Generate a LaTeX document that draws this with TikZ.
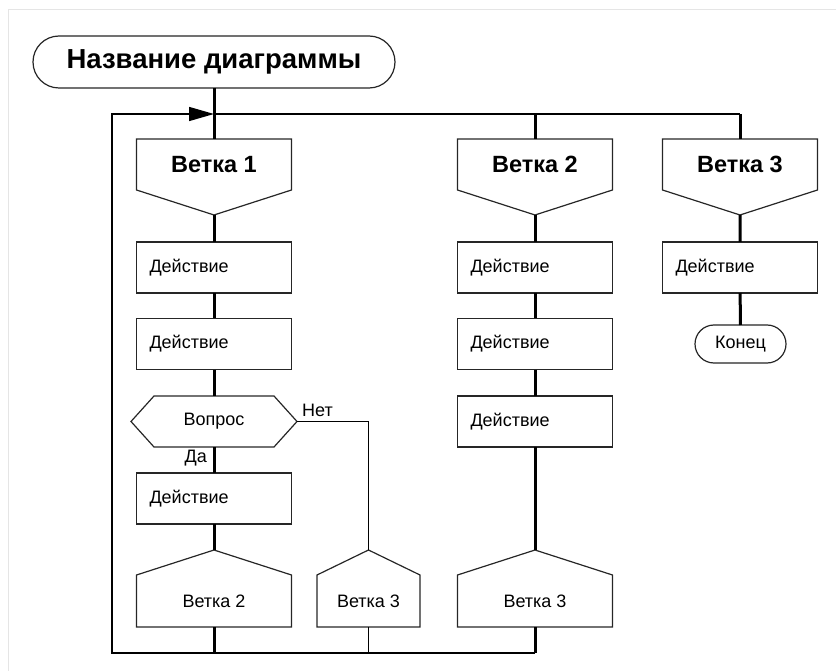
\documentclass[tikz,border=0pt]{standalone}
\usepackage{fontspec}
\setmainfont{Liberation Sans}
\usepackage{tikz}
\usetikzlibrary{arrows.meta,positioning,calc}
\tikzset{
  body/.style={inner sep=0pt, outer sep=0pt, minimum height=51pt},
  header/.style={body, minimum width=155pt, font=\fontsize{23.5}{28}\selectfont\bfseries},
  action/.style={body, text width=129pt, inner xsep=13pt, align=left, draw=black!85, line width=1.2pt, fill=white, font=\fontsize{18}{21}\selectfont},
  address/.style={body, minimum height=52pt, font=\fontsize{18}{21}\selectfont},
  terminal/.style={draw=black!85, line width=1.2pt, fill=white, inner sep=0pt, outer sep=0pt},
  lbl/.style={inner sep=1pt, font=\fontsize{18}{21}\selectfont},
  outline/.style={draw=black!85, line width=1.2pt, line join=miter},
  mainline/.style={line width=3pt},
  thinline/.style={line width=1.5pt}
}
\begin{document}
\begin{tikzpicture}[x=1pt, y=-1pt]
  \useasboundingbox (0,0) rectangle (836,671);
  \draw[black!10, line width=1pt] (8,671) -- (8,10) -- (836,10);

  % title and the two buses
  \node[terminal, rounded corners=26pt, minimum width=362pt, minimum height=52pt,
        font=\fontsize{27.5}{32}\selectfont\bfseries] (title) at (214,62) {Название диаграммы};
  \coordinate (top) at (214,114);
  \coordinate (bus2) at (535,114);
  \coordinate (bus3) at (740,114);
  \coordinate (bot1) at (214,653);
  \coordinate (bot2) at (368.5,653);
  \coordinate (bot3) at (535,653);
  \coordinate (loopb) at (112,653);
  \coordinate (loopt) at (112,114);

  % branch headers
  \node[header] (h1) at (214,164.5) {Ветка 1};
  \node[header] (h2) at (535,164.5) {Ветка 2};
  \node[header] (h3) at (740,164.5) {Ветка 3};
  \foreach \n in {h1,h2,h3}
    \draw[outline] (\n.north west) -- (\n.north east) -- (\n.south east)
      -- ($(\n.south)+(0,25)$) coordinate (\n-tip) -- (\n.south west) -- cycle;

  % branch 1
  \node[action] (d11) at (214,267.5) {Действие};
  \node[action] (d12) at (214,344) {Действие};
  \node[body, minimum width=120pt, font=\fontsize{18}{21}\selectfont] (q) at (214,421.5) {Вопрос};
  \draw[outline] (q.north west) -- (q.north east) -- ($(q.east)+(23,0)$) coordinate (q-r)
    -- (q.south east) -- (q.south west) -- ($(q.west)+(-23,0)$) -- cycle;
  \node[action] (d14) at (214,498.5) {Действие};
  \node[lbl, anchor=south west] (no) at ([xshift=4pt,yshift=4pt]q-r) {Нет};
  \node[lbl, anchor=north east] (yes) at ([xshift=-6pt,yshift=-2pt]q.south) {Да};

  % branch 2
  \node[action] (d21) at (535,267.5) {Действие};
  \node[action] (d22) at (535,344) {Действие};
  \node[action] (d23) at (535,421.5) {Действие};

  % branch 3
  \node[action] (d31) at (740,267.5) {Действие};
  \node[terminal, rounded corners=19pt, minimum width=91pt, minimum height=38pt,
        font=\fontsize{18}{21}\selectfont] (end) at (740.5,344) {Конец};

  % addresses
  \node[address, minimum width=155pt] (a1) at (214,601) {Ветка 2};
  \node[address, minimum width=103pt] (a2) at (368.5,601) {Ветка 3};
  \node[address, minimum width=155pt] (a3) at (535,601) {Ветка 3};
  \foreach \n in {a1,a2,a3}
    \draw[outline] (\n.south west) -- (\n.north west) -- ($(\n.north)+(0,-25)$) coordinate (\n-tip)
      -- (\n.north east) -- (\n.south east) -- cycle;

  % connectors
  \draw[mainline] (title) -- (top);
  \draw[thinline] (top) -- (bus3);
  \draw[mainline] (top) -- (h1.north);
  \draw[mainline] (bus2) -- (h2.north);
  \draw[mainline] (bus3) -- (h3.north);
  \draw[mainline] (h1-tip) -- (d11) -- (d12) -- (q) -- (d14) -- (a1-tip);
  \draw[mainline] (h2-tip) -- (d21) -- (d22) -- (d23) -- (a3-tip);
  \draw[mainline] (h3-tip) -- (d31) -- (end);
  \draw[thinline] (q-r) -| (a2-tip);
  \draw[mainline] (a1.south) -- (bot1);
  \draw[thinline] (a2.south) -- (bot2);
  \draw[mainline] (a3.south) -- (bot3);
  \draw[thinline, -{Triangle[length=25pt,width=14pt]}] (bot3) -- (loopb) -- (loopt) -- (top);
\end{tikzpicture}
\end{document}
